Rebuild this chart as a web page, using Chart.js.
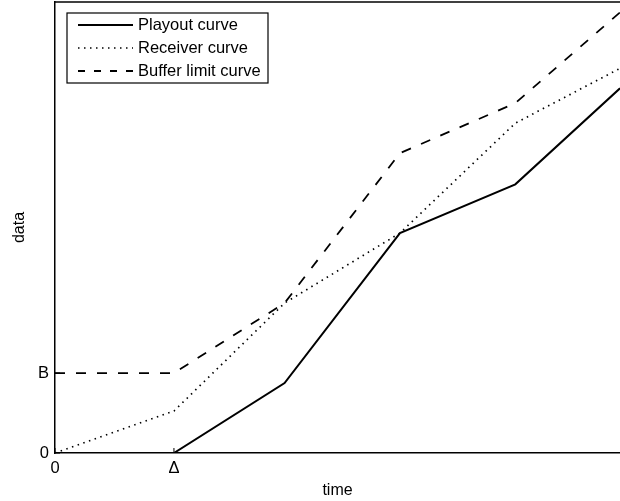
<!DOCTYPE html>
<html>
<head>
<meta charset="utf-8">
<script src="https://cdn.jsdelivr.net/npm/chart.js@4"></script>
<style>
html,body{margin:0;padding:0;background:#fff;}
#wrap{width:620px;height:501px;}
</style>
</head>
<body>
<div id="wrap"><canvas id="c" width="620" height="501"></canvas></div>
<script>
// time values (Δ = 1)
const times = [0, 1, 1.93, 2.9, 3.87, 4.75];
const playout = [0, 0, 0.875, 2.75, 3.36, 4.56];
const receiver = [0, 0.525, 1.875, 2.75, 4.125, 4.81];
const bufferLimit = [1, 1, 1.875, 3.75, 4.375, 5.51];
const seriesNames = ['Playout curve', 'Receiver curve', 'Buffer limit curve'];
const xTickValues = [0, 1];
const xTickLabels = ['0', 'Δ'];
const yTickValues = [0, 1];
const yTickLabels = ['0', 'B'];
const xMax = 4.75, yMax = 5.64;

const pts = arr => arr.map((v, i) => ({x: times[i], y: v}));
const FONT = 'Liberation Sans, Arial, Helvetica, sans-serif';

const styles = [
  {borderWidth: 2, borderDash: []},
  {borderWidth: 1.7, borderDash: [1.5, 4.5]},
  {borderWidth: 1.8, borderDash: [10, 11]}
];

const framePlugin = {
  id: 'frame',
  afterDraw(chart) {
    const {ctx, chartArea: a} = chart;
    ctx.save();
    ctx.strokeStyle = '#000';
    ctx.lineWidth = 1.5;
    ctx.beginPath();
    ctx.moveTo(a.left, a.top); ctx.lineTo(a.right, a.top);
    ctx.stroke();
    // inward tick marks
    const ys = chart.scales.y, xs = chart.scales.x;
    ctx.lineWidth = 1;
    yTickValues.forEach(v => {
      const py = ys.getPixelForValue(v);
      ctx.beginPath(); ctx.moveTo(a.left, py); ctx.lineTo(a.left + 5, py); ctx.stroke();
    });
    xTickValues.forEach(v => {
      const px = xs.getPixelForValue(v);
      ctx.beginPath(); ctx.moveTo(px, a.bottom); ctx.lineTo(px, a.bottom - 5); ctx.stroke();
    });
    // legend
    const lx = 67, ly = 13, lw = 201, lh = 70;
    ctx.fillStyle = '#fff';
    ctx.fillRect(lx, ly, lw, lh);
    ctx.lineWidth = 1.2;
    ctx.strokeStyle = '#000';
    ctx.strokeRect(lx, ly, lw, lh);
    ctx.font = '16.5px ' + FONT;
    ctx.textBaseline = 'middle';
    ctx.fillStyle = '#000';
    seriesNames.forEach((name, i) => {
      const y = ly + 12 + i * 23;
      ctx.beginPath();
      ctx.lineWidth = styles[i].borderWidth;
      ctx.setLineDash(i === 2 ? [7, 9] : styles[i].borderDash);
      ctx.moveTo(lx + 11, y); ctx.lineTo(lx + 66, y);
      ctx.stroke();
      ctx.setLineDash([]);
      ctx.fillText(name, lx + 71, y);
    });
    ctx.restore();
  }
};

new Chart(document.getElementById('c'), {
  type: 'line',
  data: {
    datasets: [playout, receiver, bufferLimit].map((arr, i) => ({
      label: seriesNames[i],
      data: pts(arr),
      borderColor: '#000',
      borderWidth: styles[i].borderWidth,
      borderDash: styles[i].borderDash,
      pointRadius: 0,
      tension: 0,
      fill: false
    }))
  },
  options: {
    responsive: false,
    animation: false,
    layout: {padding: {top: 2, right: 0, left: 0, bottom: 0}},
    plugins: {legend: {display: false}, tooltip: {enabled: false}},
    scales: {
      x: {
        type: 'linear', min: 0, max: xMax,
        grid: {display: false, drawTicks: false, tickLength: 0},
        border: {display: true, color: '#000', width: 1.5},
        afterBuildTicks: s => { s.ticks = xTickValues.map(v => ({value: v})); },
        afterFit: s => { s.height = 48; s.paddingLeft = 0; s.paddingRight = 0; },
        ticks: {
          color: '#000', font: {family: FONT, size: 16.5}, padding: 6, maxRotation: 0,
          callback: (v) => xTickLabels[xTickValues.indexOf(v)]
        },
        title: {display: true, text: 'time', color: '#000', font: {family: FONT, size: 16}, padding: {top: 2, bottom: 1}}
      },
      y: {
        type: 'linear', min: 0, max: yMax,
        grid: {display: false, drawTicks: false, tickLength: 0},
        border: {display: true, color: '#000', width: 1.5},
        afterBuildTicks: s => { s.ticks = yTickValues.map(v => ({value: v})); },
        afterFit: s => { s.width = 55; s.paddingTop = 0; s.paddingBottom = 0; },
        ticks: {
          color: '#000', font: {family: FONT, size: 16.5}, padding: 6,
          callback: (v) => yTickLabels[yTickValues.indexOf(v)]
        },
        title: {display: true, text: 'data', color: '#000', font: {family: FONT, size: 16}, padding: {top: 10, bottom: 0}}
      }
    }
  },
  plugins: [framePlugin]
});
</script>
</body>
</html>
